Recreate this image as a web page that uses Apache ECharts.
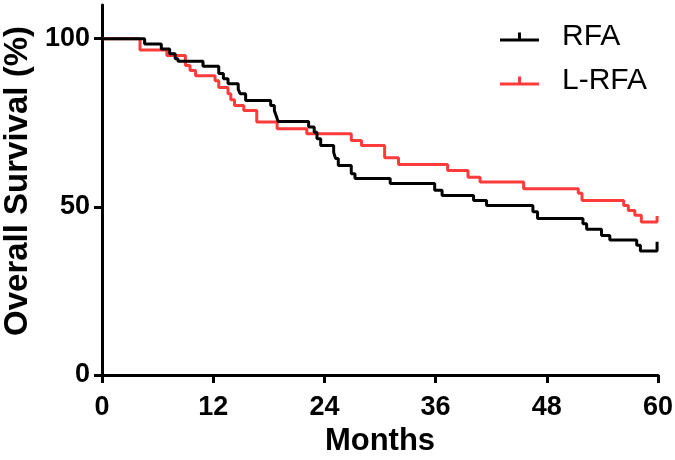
<!DOCTYPE html>
<html>
<head>
<meta charset="utf-8">
<script src="https://cdn.jsdelivr.net/npm/echarts@6/dist/echarts.min.js"></script>
<style>
html,body{margin:0;padding:0;background:#fff;}
#chart{width:675px;height:460px;}
</style>
</head>
<body>
<div id="chart"></div>
<script>
// Kaplan-Meier step data: [month, survival %] (value after each drop)
var rfaMonths = [0, 4.6, 6.4, 7.3, 7.9, 8.2, 10.9, 12.6, 13.1, 13.6, 14.7, 14.9, 15.5, 18.2, 18.6, 18.8, 19.0, 22.3, 22.9, 23.2, 23.6, 25.0, 25.2, 25.5, 26.9, 27.3, 31.1, 35.9, 36.7, 40.1, 41.5, 46.5, 47.0, 51.9, 52.3, 53.9, 54.8, 57.7, 58.1, 59.9];
var rfaSurv   = [100, 98.4, 96.9, 95.5, 94.0, 93.3, 91.8, 89.6, 88.1, 86.6, 85.0, 83.6, 81.6, 80.1, 78.6, 77.1, 75.4, 73.7, 72.2, 70.2, 68.2, 66.2, 64.4, 62.3, 59.8, 58.4, 56.9, 54.9, 53.4, 51.9, 50.4, 48.5, 46.5, 45.0, 43.3, 41.5, 40.1, 38.6, 36.9, 39.6];
var lrfaMonths = [0, 4.1, 7.0, 9.0, 9.5, 10.1, 12.2, 12.6, 13.6, 13.9, 14.3, 15.3, 16.7, 18.9, 22.1, 26.9, 28.0, 30.5, 32.0, 37.3, 39.5, 40.8, 45.5, 51.4, 51.8, 56.3, 56.8, 57.5, 58.2, 59.9];
var lrfaSurv   = [100, 96.6, 95.0, 92.0, 90.5, 89.0, 87.5, 85.5, 83.6, 81.8, 80.1, 78.6, 75.2, 73.2, 71.7, 69.7, 68.2, 64.6, 62.6, 60.8, 58.8, 57.4, 55.4, 54.0, 51.9, 50.4, 48.9, 47.5, 45.5, 47.3];
var xTicks = [0, 12, 24, 36, 48, 60];
var yTicks = [0, 50, 100];
var seriesNames = ['RFA', 'L-RFA'];

function zip(a, b) { return a.map(function (v, i) { return [v, b[i]]; }); }

var chart = echarts.init(document.getElementById('chart'), null, {renderer: 'canvas'});
var icon = 'path://M0,6L39,6L39,9L0,9Z M18,0L21,0L21,6L18,6Z';
var font = 'Liberation Sans, Arial, sans-serif';
var option = {
  backgroundColor: '#ffffff',
  animation: false,
  grid: {left: 102, right: 17, top: 5, bottom: 85, containLabel: false, outerBoundsMode: 'none'},
  legend: {
    data: seriesNames,
    orient: 'vertical',
    left: 500,
    top: 22,
    padding: 0,
    icon: icon,
    itemWidth: 39,
    itemHeight: 9,
    itemGap: 14,
    selectedMode: false,
    textStyle: {fontFamily: font, fontSize: 30, color: '#000', padding: [0, 0, 0, 18], lineHeight: 30}
  },
  xAxis: {
    type: 'value', min: 0, max: 60, interval: 12,
    name: 'Months', nameLocation: 'middle', nameGap: 46,
    nameTextStyle: {fontFamily: font, fontSize: 31, fontWeight: 'bold', color: '#000'},
    axisLine: {show: true, onZero: false, lineStyle: {color: '#000', width: 3}},
    axisTick: {show: true, length: 8, lineStyle: {color: '#000', width: 3}, customValues: xTicks},
    axisLabel: {fontFamily: font, fontSize: 27, fontWeight: 'bold', color: '#000', margin: 19, customValues: xTicks},
    splitLine: {show: false}
  },
  yAxis: {
    type: 'value', min: 0, max: 110,
    name: 'Overall Survival (%)', nameLocation: 'middle', nameGap: 66, nameRotate: 90,
    nameTextStyle: {fontFamily: font, fontSize: 33, fontWeight: 'bold', color: '#000', padding: [0, 0, 0, 18]},
    axisLine: {show: true, onZero: false, lineStyle: {color: '#000', width: 3}},
    axisTick: {show: true, length: 8, lineStyle: {color: '#000', width: 3}, customValues: yTicks},
    axisLabel: {fontFamily: font, fontSize: 27, fontWeight: 'bold', color: '#000', margin: 12, customValues: yTicks},
    splitLine: {show: false}
  },
  series: [
    {
      name: seriesNames[0], type: 'line', step: 'end', showSymbol: false, symbol: 'none', z: 4,
      color: '#000000',
      lineStyle: {color: '#000000', width: 3},
      data: zip(rfaMonths, rfaSurv)
    },
    {
      name: seriesNames[1], type: 'line', step: 'end', showSymbol: false, symbol: 'none', z: 3,
      color: '#ff3b3b',
      lineStyle: {color: '#ff3b3b', width: 3},
      data: zip(lrfaMonths, lrfaSurv)
    }
  ]
};
chart.setOption(option);
</script>
</body>
</html>
